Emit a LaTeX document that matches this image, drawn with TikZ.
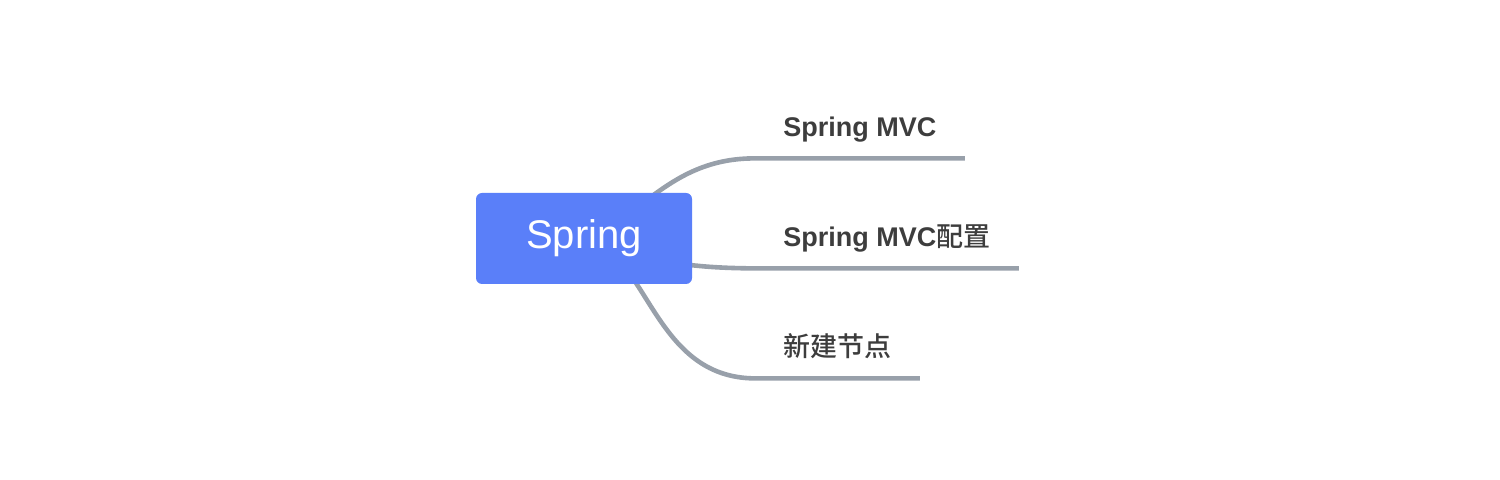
\documentclass[tikz,border=0pt]{standalone}
\usepackage{fontspec}
\setmainfont{Liberation Sans}
\newfontfamily\cjk{Noto Sans CJK SC}[BoldFont={Noto Sans CJK SC Medium}]
\usepackage{xcolor}
\usepackage{tikz}
\usetikzlibrary{positioning, backgrounds}
\definecolor{mapblue}{HTML}{5A7FF9}
\definecolor{mapgray}{HTML}{98A0AA}
\definecolor{maptext}{HTML}{3D3D3D}

\begin{document}
\begin{tikzpicture}[
    x=0.5pt, y=-0.5pt,
    root/.style={fill=mapblue,rounded corners=3pt,minimum width=108pt,minimum height=45.5pt,text=white,font=\fontsize{20}{24}\selectfont},
    leaf/.style={anchor=base west,inner xsep=14pt,inner ysep=7.5pt,text height=10pt,text depth=3pt,text=maptext,font=\fontsize{13.5}{16}\selectfont\bfseries},
    branch/.style={draw=mapgray,line width=2.3pt},
  ]
    \useasboundingbox (0,0) rectangle (1500,480);
    \node[root] (spring) at (584,238.5) {Spring};
    \node[leaf] (mvc) at (755,137) {Spring MVC};
    \node[leaf] (conf) at (755,247) {Spring MVC{\cjk 配置}};
    \node[leaf] (newnode) at (755,357) {{\cjk 新建节点}};

    \begin{scope}[on background layer]
    \draw[branch] (spring.center) .. controls (640,220) and (670,158) .. (mvc.south west) -- (mvc.south east);
    \draw[branch] (spring.center) .. controls (650,262) and (690,268) .. (conf.south west) -- (conf.south east);
    \draw[branch] (spring.center) .. controls (648,250) and (652,378) .. (newnode.south west) -- (newnode.south east);
    \end{scope}
  \end{tikzpicture}
\end{document}
